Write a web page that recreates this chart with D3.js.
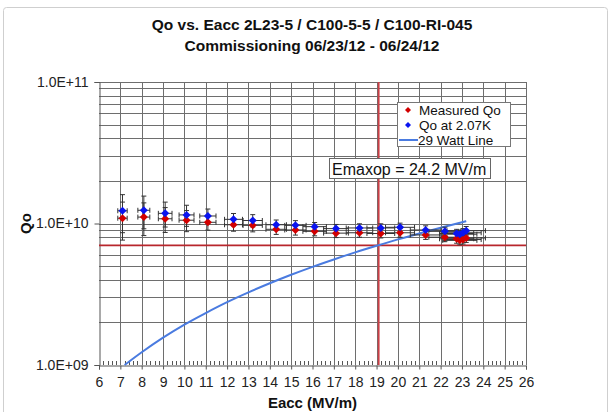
<!DOCTYPE html>
<html>
<head>
<meta charset="utf-8">
<script src="https://cdn.jsdelivr.net/npm/d3@7"></script>
<style>
  body { margin: 0; background: #fff; }
  svg { display: block; font-family: Arial, "Liberation Sans", sans-serif; }
</style>
</head>
<body>
<div id="chart"></div>
<script>
// Qo vs Eacc data
const eacc = [7.1, 8.1, 9.1, 10.1, 11.1, 12.3, 13.2, 14.3, 15.2, 16.1, 17.1, 18.2, 19.2, 20.1, 21.3, 22.2, 22.75, 22.9, 23.05, 23.2];
const qoMeasured = [1.09e10, 1.11e10, 1.08e10, 1.055e10, 1.02e10, 9.8e9, 9.7e9, 9.1e9, 9.0e9, 8.8e9, 8.55e9, 8.6e9, 8.5e9, 8.6e9, 8.3e9, 8.0e9, 7.8e9, 7.6e9, 7.7e9, 7.9e9];
const qo207K = [1.23e10, 1.24e10, 1.18e10, 1.15e10, 1.13e10, 1.07e10, 1.05e10, 9.8e9, 9.7e9, 9.5e9, 9.2e9, 9.3e9, 9.3e9, 9.4e9, 9.0e9, 8.8e9, 8.5e9, 8.4e9, 8.6e9, 8.9e9];
const eaccErr = [0.22, 0.28, 0.32, 0.35, 0.38, 0.42, 0.45, 0.48, 0.5, 0.55, 0.58, 0.62, 0.65, 0.68, 0.72, 0.75, 0.8, 0.8, 0.85, 0.9];
const qoErrFrac = [0.3, 0.26, 0.2, 0.17, 0.12, 0.1, 0.1, 0.08, 0.08, 0.07, 0.07, 0.07, 0.07, 0.07, 0.07, 0.07, 0.07, 0.07, 0.07, 0.07];

// 29 Watt line
const wattE = [7.2, 8, 9, 10, 11, 12, 13, 14, 15, 16, 17, 18, 19, 20, 21, 22, 23.2];
const wattQo = [1.0e9, 1.23e9, 1.56e9, 1.93e9, 2.33e9, 2.78e9, 3.26e9, 3.78e9, 4.34e9, 4.94e9, 5.57e9, 6.25e9, 6.96e9, 7.72e9, 8.5e9, 9.34e9, 1.04e10];

// Reference lines
const qoSpec = 7e9;
const eLimit = 19.1;

const xTicks = d3.range(6, 27, 1);
const yTicks = [1e9, 1e10, 1e11];

const titleLines = ["Qo vs. Eacc 2L23-5 / C100-5-5 / C100-RI-045", "Commissioning 06/23/12 - 06/24/12"];
const legendItems = ["Measured Qo", "Qo at 2.07K", "29 Watt Line"];
const emaxText = "Emaxop = 24.2 MV/m";

const width = 613, height = 412;
const margin = { left: 99, right: 87, top: 82, bottom: 47 };

const svg = d3.select("#chart").append("svg")
  .attr("width", width)
  .attr("height", height);

// outer frame
svg.append("rect")
  .attr("x", 3.5).attr("y", 7.5)
  .attr("width", 604).attr("height", 420)
  .attr("rx", 3)
  .style("fill", "#fff")
  .style("stroke", "#cfcfcf");

const x = d3.scaleLinear().domain([6, 26]).range([margin.left, width - margin.right]);
const y = d3.scaleLog().domain([1e9, 1e11]).range([height - margin.bottom, margin.top]);

// Title
svg.selectAll(".title")
  .data(titleLines)
  .enter()
  .append("text")
  .attr("x", 312)
  .attr("y", (d, i) => 30 + i * 21)
  .attr("text-anchor", "middle")
  .style("font-size", "15.5px")
  .style("font-weight", "bold")
  .style("fill", "#111")
  .text((d) => d);

// Grid
const minorY = [];
[1e9, 1e10].forEach((dec) => {
  for (let k = 2; k <= 9; k++) minorY.push(dec * k);
});
const grid = svg.append("g").attr("class", "grid");
grid.selectAll(".hgrid")
  .data(minorY.concat([1e10, 1e11]))
  .enter()
  .append("line")
  .attr("x1", x(6)).attr("x2", x(26))
  .attr("y1", (d) => Math.round(y(d)) + 0.5)
  .attr("y2", (d) => Math.round(y(d)) + 0.5)
  .style("stroke", "#6e6e6e")
  .style("stroke-width", 1);
grid.selectAll(".vgrid")
  .data(xTicks.slice(1))
  .enter()
  .append("line")
  .attr("x1", (d) => Math.round(x(d)) + 0.5)
  .attr("x2", (d) => Math.round(x(d)) + 0.5)
  .attr("y1", y(1e11)).attr("y2", y(1e9))
  .style("stroke", "#6e6e6e")
  .style("stroke-width", 1);

// Axes
const xAxis = svg.append("g")
  .attr("transform", `translate(0, ${Math.round(y(1e9)) + 0.5})`)
  .call(d3.axisBottom(x).tickValues(xTicks).tickSize(4).tickPadding(8).tickFormat(d3.format("d")));
xAxis.select(".domain").style("stroke", "#555");
xAxis.selectAll(".tick line").style("stroke", "#555");
xAxis.selectAll("text").style("font-size", "14px").style("fill", "#222").style("font-family", "Arial, 'Liberation Sans', sans-serif");

// x minor ticks (inside)
svg.append("g").selectAll("line")
  .data(d3.range(6, 26.001, 0.2).filter((v) => Math.abs(v - Math.round(v)) > 0.01))
  .enter()
  .append("line")
  .attr("x1", (d) => Math.round(x(d)) + 0.5)
  .attr("x2", (d) => Math.round(x(d)) + 0.5)
  .attr("y1", y(1e9))
  .attr("y2", y(1e9) - 4)
  .style("stroke", "#555");

const yAxis = svg.append("g")
  .attr("transform", `translate(${Math.round(x(6)) + 0.5}, 0)`)
  .call(d3.axisLeft(y).tickValues(yTicks).tickSize(5).tickPadding(6)
    .tickFormat((d) => "1.0E+" + String(Math.round(Math.log10(d))).padStart(2, "0")));
yAxis.select(".domain").style("stroke", "#555");
yAxis.selectAll(".tick line").style("stroke", "#555");
yAxis.selectAll("text").style("font-size", "14px").style("fill", "#222").style("font-family", "Arial, 'Liberation Sans', sans-serif");

// Axis titles
svg.append("text")
  .attr("x", x(16))
  .attr("y", 408)
  .attr("text-anchor", "middle")
  .style("font-size", "15px")
  .style("font-weight", "bold")
  .style("fill", "#111")
  .text("Eacc (MV/m)");
svg.append("text")
  .attr("transform", `translate(31, ${(y(1e9) + y(1e11)) / 2}) rotate(-90)`)
  .attr("text-anchor", "middle")
  .style("font-size", "15px")
  .style("font-weight", "bold")
  .style("fill", "#111")
  .text("Qo");

// Red reference lines
svg.append("line")
  .attr("x1", x(6)).attr("x2", x(26))
  .attr("y1", y(qoSpec)).attr("y2", y(qoSpec))
  .style("stroke", "#b8262c")
  .style("stroke-width", 1.8);
svg.append("line")
  .attr("x1", x(eLimit)).attr("x2", x(eLimit))
  .attr("y1", y(1e11)).attr("y2", y(1e9))
  .style("stroke", "#cc3f46")
  .style("stroke-width", 1.8);

// 29 Watt line
const wattData = wattE.map((e, i) => ({ e, q: wattQo[i] }));
svg.append("path")
  .datum(wattData)
  .attr("d", d3.line().x((d) => x(d.e)).y((d) => y(d.q)).curve(d3.curveMonotoneX))
  .style("fill", "none")
  .style("stroke", "#4a7be0")
  .style("stroke-width", 2);

// Error bars
const points = eacc.map((e, i) => ({
  e, ex: eaccErr[i], err: qoErrFrac[i], red: qoMeasured[i], blue: qo207K[i],
}));
const errG = svg.append("g").attr("class", "errors").style("stroke", "#333").style("stroke-width", 1);
["red", "blue"].forEach((key) => {
  points.forEach((p) => {
    const cx = x(p.e), cy = y(p[key]);
    const yTop = y(p[key] * (1 + p.err)), yBot = y(p[key] * (1 - p.err));
    const xl = x(p.e - p.ex), xr = x(p.e + p.ex);
    errG.append("line").attr("x1", cx).attr("x2", cx).attr("y1", yTop).attr("y2", yBot);
    errG.append("line").attr("x1", cx - 2.5).attr("x2", cx + 2.5).attr("y1", yTop).attr("y2", yTop);
    errG.append("line").attr("x1", cx - 2.5).attr("x2", cx + 2.5).attr("y1", yBot).attr("y2", yBot);
    errG.append("line").attr("x1", xl).attr("x2", xr).attr("y1", cy).attr("y2", cy);
    errG.append("line").attr("x1", xl).attr("x2", xl).attr("y1", cy - 2.5).attr("y2", cy + 2.5);
    errG.append("line").attr("x1", xr).attr("x2", xr).attr("y1", cy - 2.5).attr("y2", cy + 2.5);
  });
});

// Markers: square turned 45 degrees
const diamond = d3.symbol().type(d3.symbolSquare).size(32);
svg.append("g").selectAll("path")
  .data(points)
  .enter()
  .append("path")
  .attr("d", diamond)
  .attr("transform", (d) => `translate(${x(d.e)}, ${y(d.red)}) rotate(45)`)
  .style("fill", "#d20000");
svg.append("g").selectAll("path")
  .data(points)
  .enter()
  .append("path")
  .attr("d", diamond)
  .attr("transform", (d) => `translate(${x(d.e)}, ${y(d.blue)}) rotate(45)`)
  .style("fill", "#0a14f0");

// Legend
const legend = svg.append("g").attr("transform", "translate(397, 102)");
legend.append("rect")
  .attr("x", 0.5).attr("y", 0.5)
  .attr("width", 113).attr("height", 44)
  .style("fill", "#fff")
  .style("stroke", "#777");
legendItems.forEach((name, i) => {
  const row = legend.append("g").attr("transform", `translate(0, ${8 + i * 15})`);
  if (i < 2) {
    row.append("path")
      .attr("d", d3.symbol().type(d3.symbolSquare).size(18))
      .attr("transform", "translate(11, 0) rotate(45)")
      .style("fill", i === 0 ? "#d20000" : "#0a14f0");
  } else {
    row.append("line")
      .attr("x1", 2).attr("x2", 21)
      .style("stroke", "#4a7be0")
      .style("stroke-width", 2);
  }
  row.append("text")
    .attr("x", i < 2 ? 22 : 21)
    .attr("dy", "0.35em")
    .style("font-size", "13.5px")
    .style("fill", "#111")
    .text(name);
});

// Emaxop annotation
const note = svg.append("g").attr("transform", "translate(329, 158)");
note.append("rect")
  .attr("x", 0.5).attr("y", 0.5)
  .attr("width", 161).attr("height", 20)
  .style("fill", "#fff")
  .style("stroke", "#666");
note.append("text")
  .attr("x", 3)
  .attr("y", 11)
  .attr("dy", "0.35em")
  .style("font-size", "16px")
  .style("fill", "#111")
  .text(emaxText);
</script>
</body>
</html>
